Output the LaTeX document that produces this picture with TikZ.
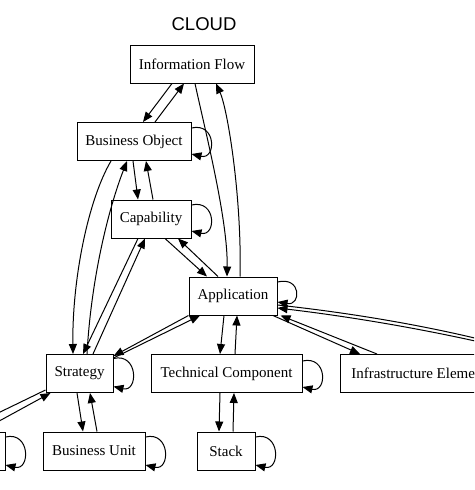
\documentclass[tikz,border=0pt]{standalone}
\usepackage{fontspec}
\setmainfont{Liberation Serif}
\newfontfamily\titlefont{Liberation Sans}
\usetikzlibrary{arrows.meta}

\begin{document}
\begin{tikzpicture}[x=1pt,y=1pt]
    \tikzstyle{box}=[draw,line width=1pt,minimum height=38pt,inner sep=0pt,font=\fontsize{15}{18}\selectfont]
    \tikzstyle{link}=[line width=1pt,-{Triangle[length=10pt,width=8pt]}]
    \useasboundingbox (0,0) rectangle (474,-490);
    \clip (0,0) rectangle (474,-490);

    \node[font=\titlefont\fontsize{18.5}{21}\selectfont] (title) at (204,-24) {CLOUD};
    \node[box,minimum width=124pt] (info) at (192,-64) {Information Flow};
    \node[box,minimum width=114pt] (bobj) at (134,-141.5) {Business Object};
    \node[box,minimum width=80pt] (capa) at (151,-219) {Capability};
    \node[box,minimum width=88pt] (appl) at (233,-296) {Application};
    \node[box,minimum width=67pt] (strat) at (79.5,-373.5) {Strategy};
    \node[box,minimum width=151pt] (tech) at (226.5,-373.5) {Technical Component};
    \node[box,minimum width=158pt] (infra) at (419,-373.5) {Infrastructure Element};
    \node[box,minimum width=120pt] (lbox) at (-55,-451) {};
    \node[box,minimum width=102pt] (bunit) at (94,-451) {Business Unit};
    \node[box,minimum width=58pt] (stack) at (226,-451) {Stack};
    \coordinate (far) at (560,-362);

    \draw[link] ([xshift=-20pt]info.south) -- ([xshift=9pt]bobj.north);
    \draw[link] ([xshift=21pt]bobj.north) -- ([xshift=-8pt]info.south);
    \draw[link] ([xshift=3pt]info.south) .. controls (205,-130) and (228,-220) .. ([xshift=-6pt]appl.north);
    \draw[link] ([xshift=7pt]appl.north) .. controls (242,-200) and (228,-110) .. ([xshift=24pt]info.south);
    \draw[link] ([xshift=-1pt]bobj.south) -- ([xshift=-13pt]capa.north);
    \draw[link] ([xshift=2pt]capa.north) -- ([xshift=12pt]bobj.south);
    \draw[link] ([xshift=-23pt]bobj.south) .. controls (88,-200) and (72,-280) .. ([xshift=-6.5pt]strat.north);
    \draw[link] ([xshift=7.5pt]strat.north) .. controls (91,-280) and (108,-210) .. ([xshift=-7pt]bobj.south);
    \draw[link] ([xshift=-13pt]capa.south) -- ([xshift=3.5pt]strat.north);
    \draw[link] ([xshift=13.5pt]strat.north) -- ([xshift=-6pt]capa.south);
    \draw[link] ([xshift=14pt]capa.south) -- ([xshift=-26pt]appl.north);
    \draw[link] ([xshift=-15pt]appl.north) -- ([xshift=27pt]capa.south);
    \draw[link] (appl.south west) -- ([yshift=-2pt]strat.north east);
    \draw[link] ([yshift=-4pt]strat.north east) -- ([xshift=-33pt]appl.south);
    \draw[link] ([xshift=-9pt]appl.south) -- ([xshift=-6.5pt]tech.north);
    \draw[link] ([xshift=8.5pt]tech.north) -- ([xshift=4pt]appl.south);
    \draw[link] ([xshift=40pt]appl.south) -- ([xshift=-59pt]infra.north);
    \draw[link] ([xshift=-42pt]infra.north) -- ([xshift=3pt]appl.south east);
    \draw[link] (far) .. controls (470,-337) and (370,-319) .. ([yshift=-12pt]appl.east);
    \draw[link] ([yshift=-9pt]appl.east) .. controls (370,-315) and (470,-333) .. (far);
    \draw[link] ([yshift=3pt]strat.south west) -- ([xshift=15pt]lbox.north);
    \draw[link] ([xshift=35pt]lbox.north) -- ([xshift=5pt]strat.south west);
    \draw[link] ([xshift=-2.5pt]strat.south) -- ([xshift=-11pt]bunit.north);
    \draw[link] ([xshift=3pt]bunit.north) -- ([xshift=10.5pt]strat.south);
    \draw[link] ([xshift=-6.5pt]tech.south) -- ([xshift=-7pt]stack.north);
    \draw[link] ([xshift=7pt]stack.north) -- ([xshift=7.5pt]tech.south);

    \draw[link] ([yshift=13.5pt]bobj.east) .. controls +(25,6) and +(25,-6) .. ([yshift=-12.5pt]bobj.east);
    \draw[link] ([yshift=14pt]capa.east) .. controls +(25,6) and +(25,-6) .. ([yshift=-12pt]capa.east);
    \draw[link] ([yshift=14pt]appl.east) .. controls +(24,6) and +(24,-4) .. ([yshift=-6pt]appl.east);
    \draw[link] ([yshift=15pt]strat.east) .. controls +(25,6) and +(25,-6) .. ([yshift=-13pt]strat.east);
    \draw[link] ([yshift=12.5pt]tech.east) .. controls +(25,6) and +(25,-6) .. ([yshift=-13.5pt]tech.east);
    \draw[link] ([yshift=14pt]lbox.east) .. controls +(25,6) and +(25,-6) .. ([yshift=-14pt]lbox.east);
    \draw[link] ([yshift=14pt]bunit.east) .. controls +(25,6) and +(25,-6) .. ([yshift=-14pt]bunit.east);
    \draw[link] ([yshift=14pt]stack.east) .. controls +(25,6) and +(25,-6) .. ([yshift=-14pt]stack.east);
\end{tikzpicture}
\end{document}
